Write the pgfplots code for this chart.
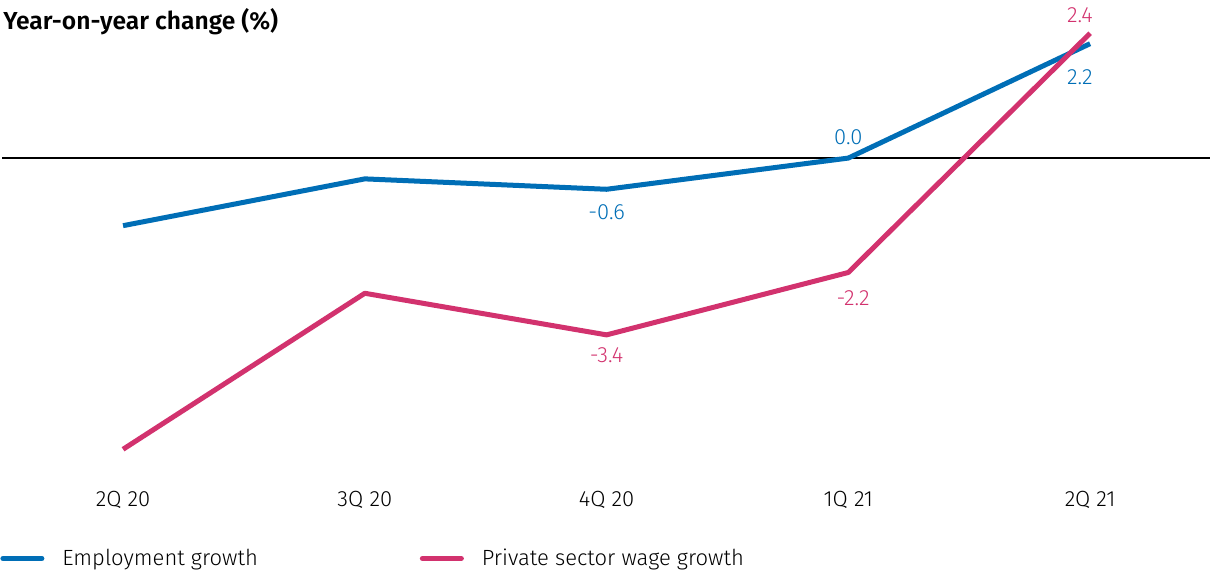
\documentclass[border=0pt]{standalone}
\usepackage{pgfplots}
\pgfplotsset{compat=1.18}
\usepackage{fontspec}
\setmainfont{Fira Sans}[UprightFont={* Light}, BoldFont={* SemiBold}]
\definecolor{empblue}{RGB}{0,110,182}
\definecolor{wagered}{RGB}{210,50,110}
\begin{document}
\begin{tikzpicture}
\begin{axis}[
  scale only axis,
  width=604.4pt, height=232.7pt,
  xmin=-0.5, xmax=4.5,
  ymin=-6.2, ymax=2.75,
  clip=false,
  axis line style={draw=none},
  major tick length=0pt,
  ytick=\empty,
  xtick={0,1,2,3,4},
  xticklabels={2Q 20,3Q 20,4Q 20,1Q 21,2Q 21},
  x tick label style={font=\fontsize{11}{13}\selectfont, yshift=-2pt},
  legend style={at={(axis cs:-0.509,-7.70)}, anchor=west, draw=none, fill=none,
    legend columns=2, inner sep=0pt,
    font=\fontsize{11}{13}\selectfont,
    /tikz/every even column/.append style={column sep=81pt},
    nodes={inner sep=0pt, anchor=west}},
  legend image code/.code={\draw[#1, line width=2.5pt, line cap=round] (1.25pt,0pt) -- (20.75pt,0pt); \path[draw=none] (0pt,0pt) -- (31pt,0pt);},
]
\draw[black, line width=0.75pt] (axis cs:-0.5,0) -- (axis cs:4.5,0);
\addplot[empblue, line width=2.5pt, line join=round] coordinates {(0,-1.3) (1,-0.4) (2,-0.6) (3,0.0) (4,2.2)};
\addlegendentry{Employment growth}
\addplot[wagered, line width=2.5pt, line join=round] coordinates {(0,-5.6) (1,-2.6) (2,-3.4) (3,-2.2) (4,2.4)};
\addlegendentry{Private sector wage growth}
\begin{scope}[font=\fontsize{11}{13}\selectfont]
\node[text=empblue] at (axis cs:2,-1.04) {-0.6};
\node[text=empblue] at (axis cs:3,0.40) {0.0};
\node[text=empblue] at (axis cs:3.958,1.56) {2.2};
\node[text=wagered] at (axis cs:3.958,2.75) {2.4};
\node[text=wagered] at (axis cs:2,-3.79) {-3.4};
\node[text=wagered] at (axis cs:3.02,-2.69) {-2.2};
\end{scope}
\node[anchor=west, inner sep=0pt, font=\bfseries\fontsize{12.3}{14}\selectfont] at (axis cs:-0.497,2.62) {Year-on-year change (\%)};
\coordinate (TL) at (axis cs:-0.509,3.04);
\coordinate (BR) at (axis cs:4.496,-7.92);
\end{axis}
\pgfresetboundingbox
\path[use as bounding box] (TL) rectangle (BR);
\end{tikzpicture}
\end{document}
